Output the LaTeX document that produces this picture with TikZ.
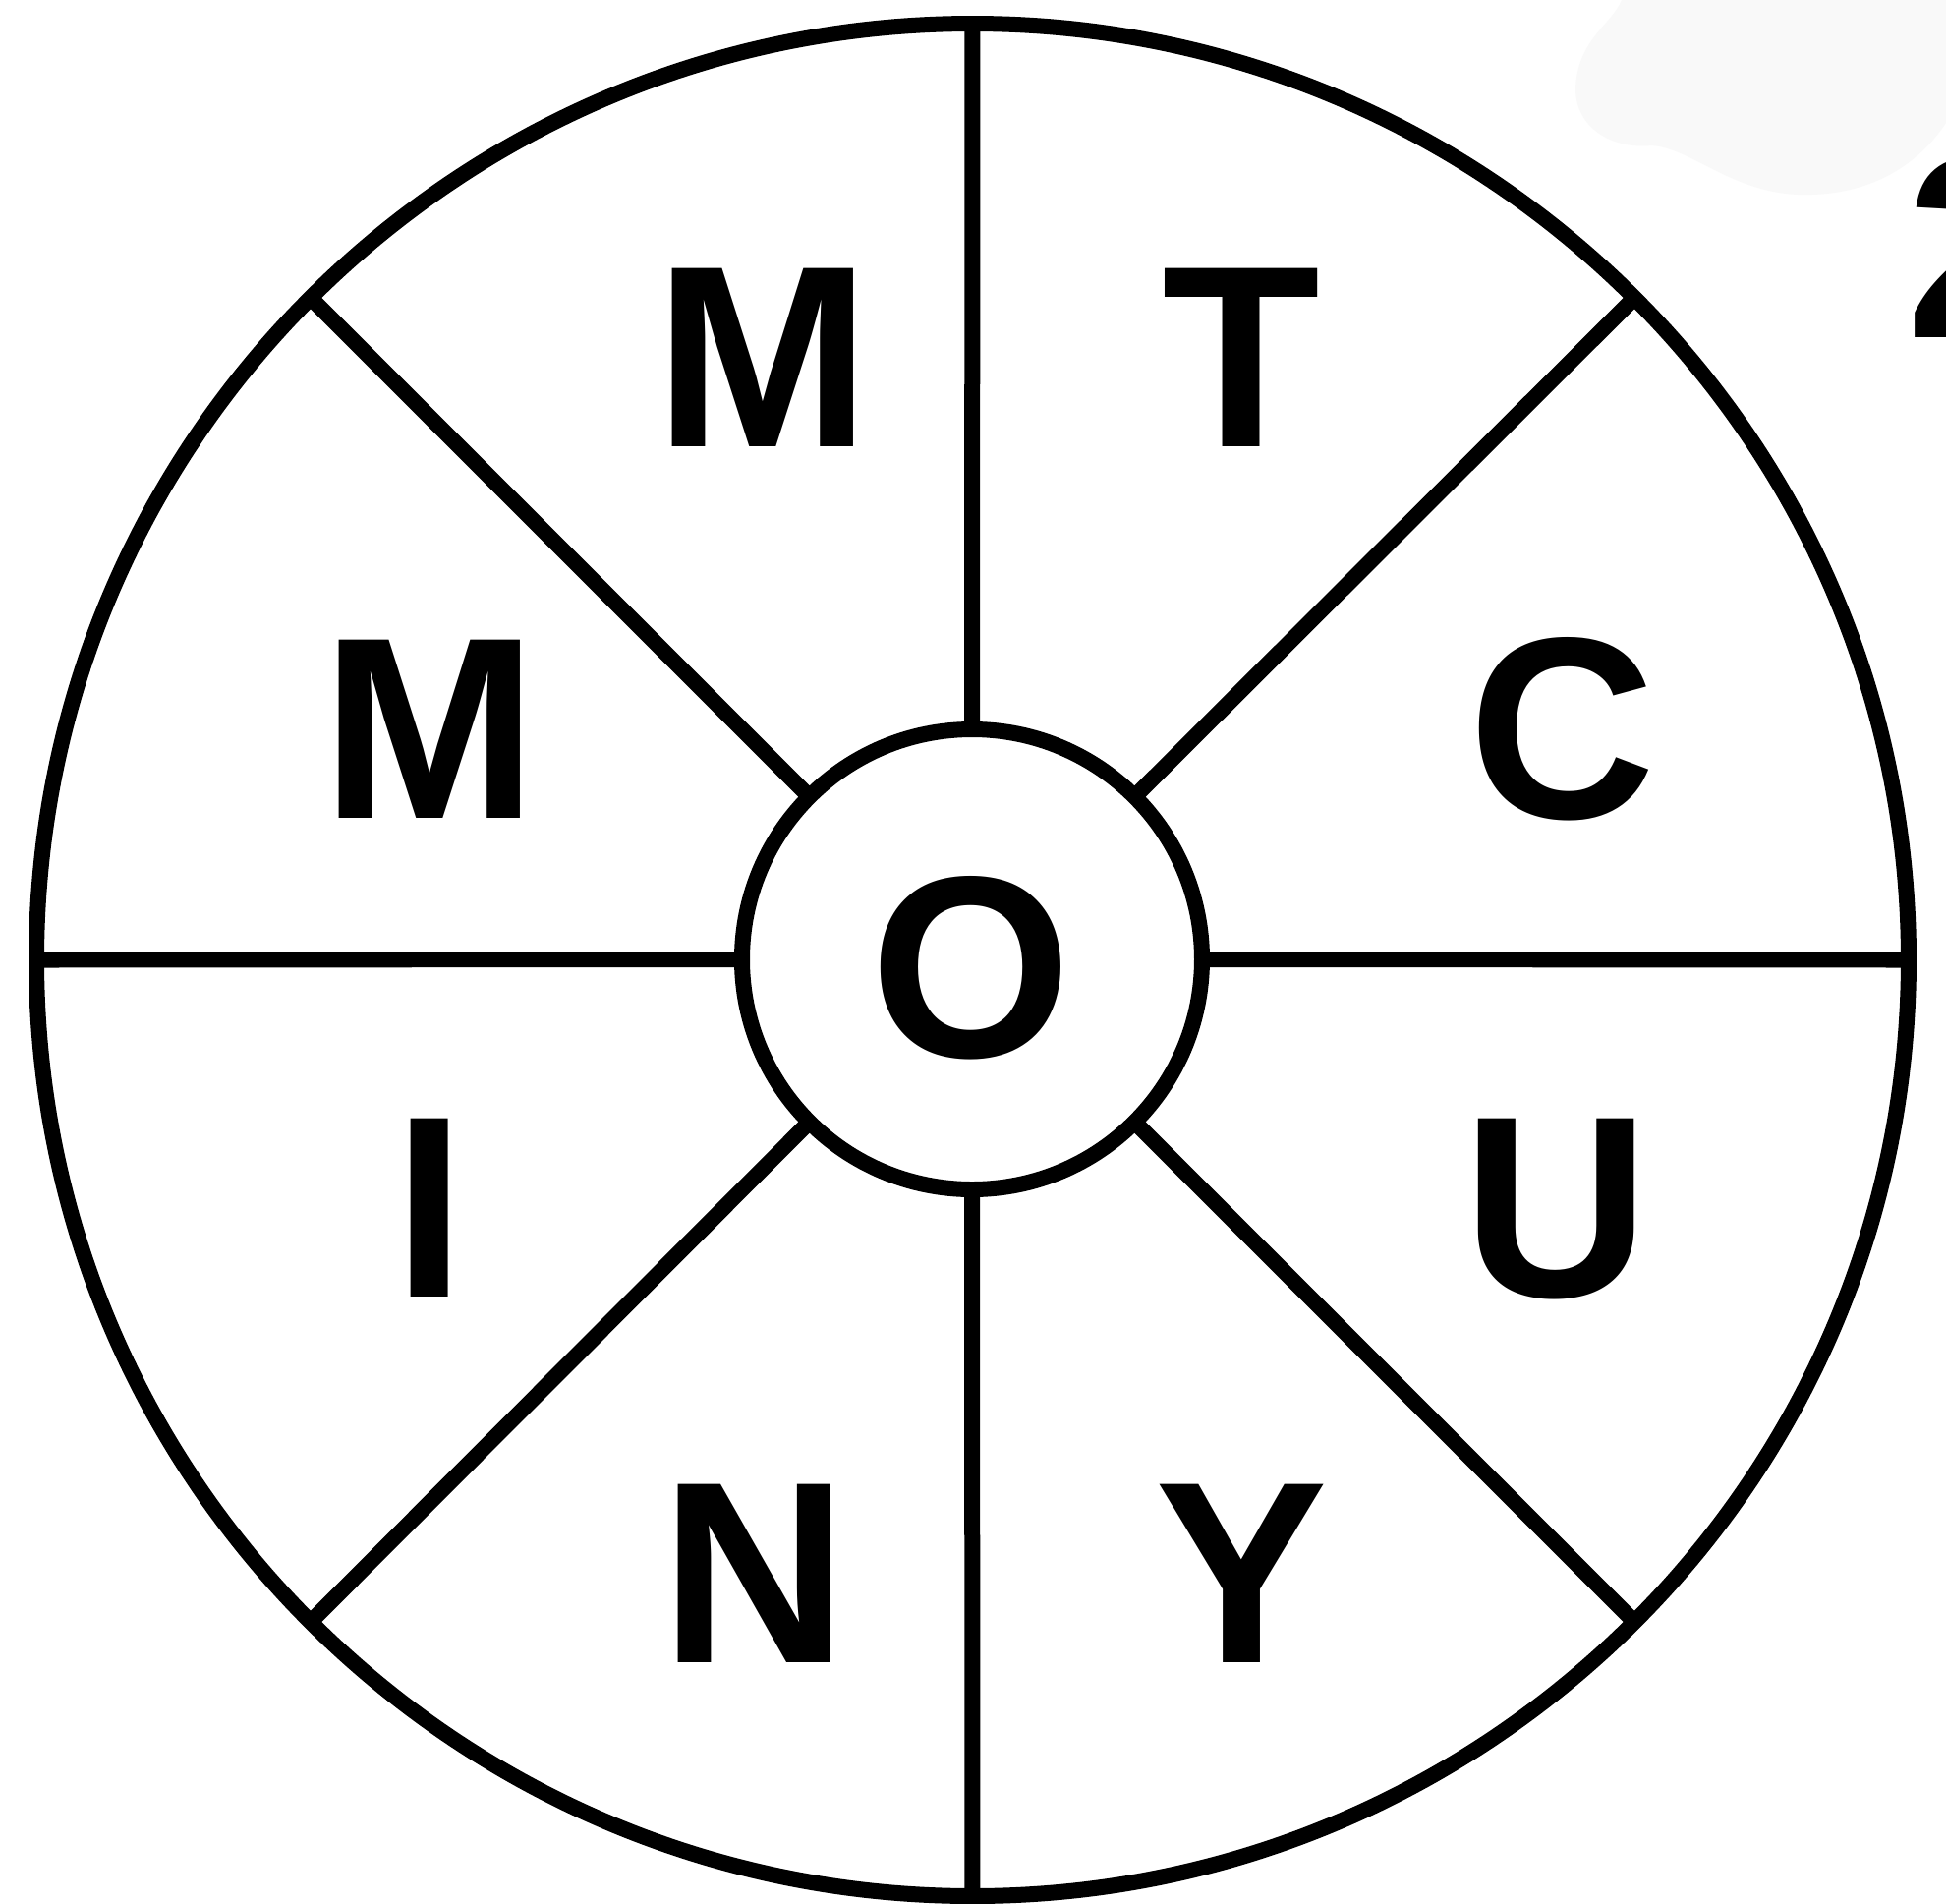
\documentclass[tikz,border=0pt]{standalone}
\usepackage{fontspec}
\setmainfont{Liberation Sans}
\usepackage{tikz}
\usetikzlibrary{positioning}
\definecolor{ink}{RGB}{0, 0, 0}
\definecolor{blobgray}{RGB}{249, 249, 249}

\begin{document}
\begin{tikzpicture}[
    x=0.1mm, y=-0.1mm,
    ring/.style={circle, draw=ink, line width=1.6mm, outer sep=0pt, inner sep=0pt},
    spoke/.style={draw=ink, line width=1.6mm},
    letter/.style={font=\bfseries\fontsize{75}{75}\selectfont, text=ink, inner sep=0pt},
]
  \useasboundingbox (0,0) rectangle (1980,1937);
  \fill[white] (0,0) rectangle (1980,1937);

  % faint patch and cut-off digit at the right edge
  \fill[blobgray] (1650,0) .. controls (1640,25) and (1605,40) .. (1603,90)
      .. controls (1603,130) and (1640,152) .. (1680,148)
      .. controls (1720,150) and (1760,195) .. (1830,198)
      .. controls (1900,200) and (1950,170) .. (1980,125) -- (1980,0) -- cycle;
  \node[letter, anchor=base west] (digit) at (1939,343) {2};

  \node[ring, minimum size=190.5mm] (rim) at (989.5,976.5) {};
  \node[ring, minimum size=46.8mm]  (hub) at (989,976) {};

  \foreach \a in {0,45,...,315}
    \draw[spoke] (hub.\a) -- (rim.\a);

  \node[letter] (mtop)  at (776,364)   {M};
  \node[letter] (ttop)  at (1263,364)  {T};
  \node[letter] (mleft) at (437,742)   {M};
  \node[letter] (cright) at (1590,742) {C};
  \node[letter] (ocen)  at (988,985)   {O};
  \node[letter] (ileft) at (437.5,1229) {I};
  \node[letter] (uright) at (1583.5,1230) {U};
  \node[letter] (nbot)  at (768,1601)  {N};
  \node[letter] (ybot)  at (1263,1601) {Y};
\end{tikzpicture}
\end{document}
